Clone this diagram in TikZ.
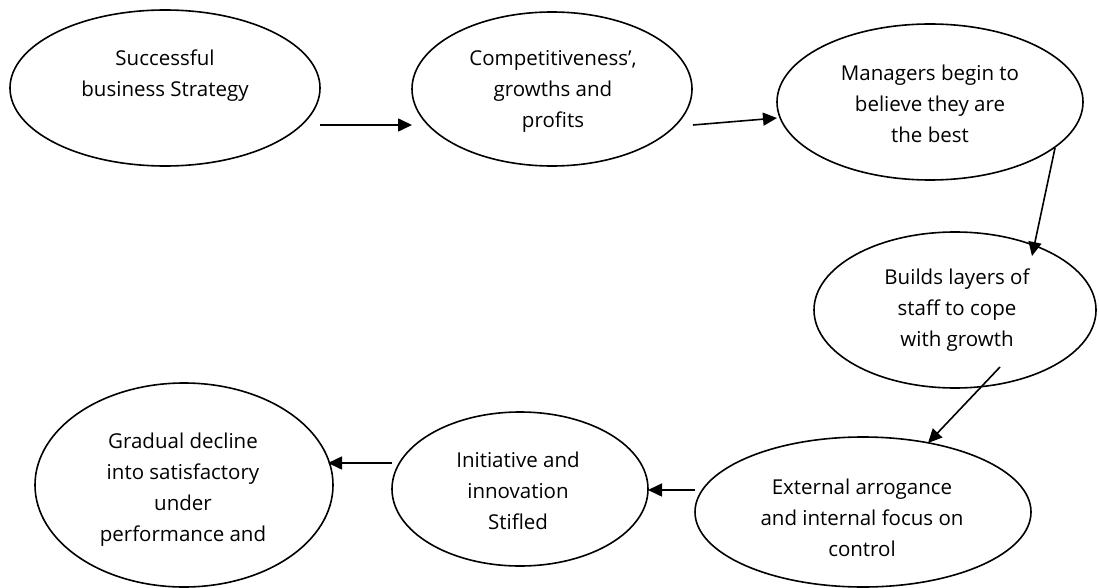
\documentclass[tikz,border=0pt]{standalone}
\usepackage{fontspec}
\setmainfont{Open Sans}
\usetikzlibrary{arrows.meta,shapes.geometric}
\begin{document}
\begin{tikzpicture}[x=1pt,y=-1pt,
  oval/.style={draw,ellipse,line width=1.6pt,inner sep=0pt},
  txt/.style={align=center,font=\fontsize{20.5}{31}\selectfont,inner sep=0pt},
  arr/.style={line width=1.6pt,-{Triangle[length=14pt,width=13pt]}}]
\useasboundingbox (0,0) rectangle (1099,588);
% ellipses
\node[oval,minimum width=310pt,minimum height=156pt] (e1) at (165,88) {};
\node[oval,minimum width=280pt,minimum height=154pt] (e2) at (552,89) {};
\node[oval,minimum width=306pt,minimum height=156pt] (e3) at (930,102) {};
\node[oval,minimum width=282pt,minimum height=156pt] (e4) at (955,310) {};
\node[oval,minimum width=336pt,minimum height=150pt] (e5) at (863,512) {};
\node[oval,minimum width=256pt,minimum height=154pt] (e7) at (520,489) {};
\node[oval,minimum width=298pt,minimum height=204pt] (e6) at (184,485) {};
% texts
\node[txt] (t1) at (165,76) {Successful\\business Strategy};
\node[txt] (t2) at (553,91) {Competitiveness',\\growths and\\profits};
\node[txt] (t3) at (930,104) {Managers begin to\\believe they are\\the best};
\node[txt] (t4) at (957,310) {Builds layers of\\staff to cope\\with growth};
\node[txt] (t5) at (862,518) {External arrogance\\and internal focus on\\control};
\node[txt] (t7) at (518,491) {Initiative and\\innovation\\Stifled};
\node[txt] (t6) at (183,490) {Gradual decline\\into satisfactory\\under\\performance and};
% arrow ends
\coordinate (a1s) at (320,125);
\coordinate (a1e) at (412,125);
\coordinate (a2s) at (693,125);
\coordinate (a2e) at (777,118);
\coordinate (a3s) at (1055,148);
\coordinate (a3e) at (1032,256);
\coordinate (a4s) at (1000,367);
\coordinate (a4e) at (928,443);
\coordinate (a5s) at (695,490);
\coordinate (a5e) at (648,490);
\coordinate (a6s) at (392,463);
\coordinate (a6e) at (328,463);
\draw[arr] (a1s) -- (a1e);
\draw[arr] (a2s) -- (a2e);
\draw[arr] (a3s) -- (a3e);
\draw[arr] (a4s) -- (a4e);
\draw[arr] (a5s) -- (a5e);
\draw[arr] (a6s) -- (a6e);
\end{tikzpicture}
\end{document}
